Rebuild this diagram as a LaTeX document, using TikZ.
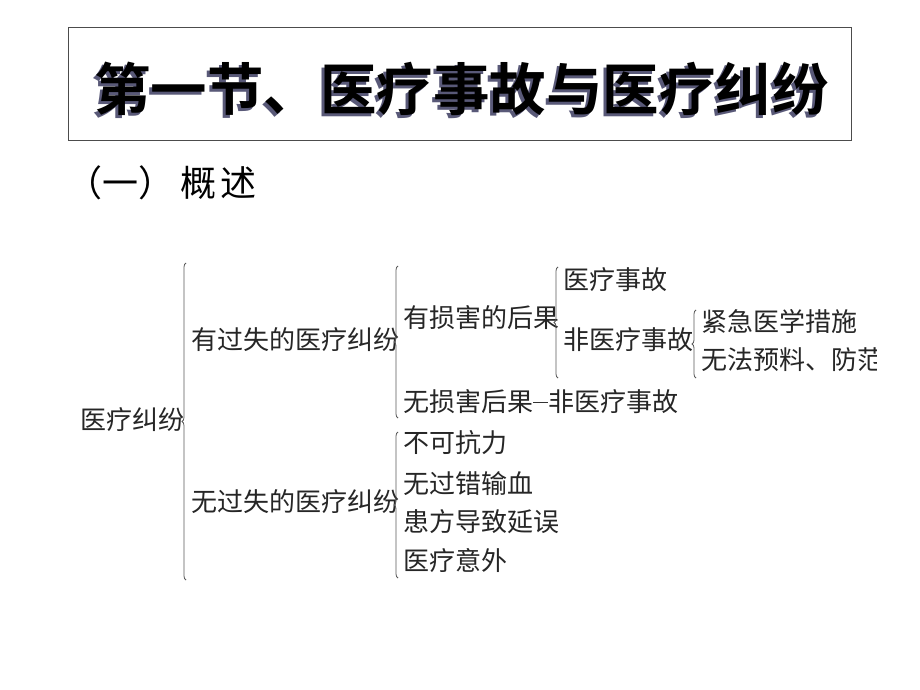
\documentclass[tikz,border=0pt]{standalone}
\usepackage{fontspec}
\newfontfamily\cjk[BoldFont={Noto Sans CJK SC Bold}]{Noto Sans CJK SC}
\usetikzlibrary{decorations.pathreplacing}
\colorlet{shadowc}{black!60!blue!30!gray}
\tikzset{
  leaf/.style={anchor=west, inner sep=0pt, font=\cjk\fontsize{26}{26}\selectfont, text=black!85},
  brc/.style={draw=black!65, line width=0.8pt, decorate, decoration={brace, amplitude=4pt, raise=0pt}},
  dashline/.style={draw=black!80, line width=0.8pt},
  titletext/.style={font=\cjk\bfseries\fontsize{56.5}{56.5}\selectfont, inner sep=0pt}
}
\newcommand\shadowed[1]{\rlap{\hspace{-3pt}\raisebox{-3pt}{\textcolor{shadowc}{#1}}}#1}
\begin{document}
\begin{tikzpicture}[x=1pt,y=-1pt]
\useasboundingbox (0,0) rectangle (920,690);
\fill[white] (0,0) rectangle (920,690);
% title
\node[draw=black!70, line width=0.8pt, minimum width=783pt, minimum height=113pt, inner sep=0pt] (titlebox) at (459.5,83.5) {};
\node[titletext, text=black] (title) at (461.5,90) {\shadowed{第一节、医疗事故与医疗纠纷}};
\node[anchor=west, inner sep=0pt, font=\cjk\fontsize{36}{36}\selectfont] (sub) at (66,183) {（一）\hspace{6pt}概\hspace{4pt}述};
% tree
\node[leaf] (root) at (80,420) {医疗纠纷};
\draw[brc] (186,580) -- (186,263);
\node[leaf] (a1) at (191,340) {有过失的医疗纠纷};
\node[leaf] (a2) at (191,502) {无过失的医疗纠纷};
\draw[brc] (398,418) -- (398,266);
\node[leaf] (b1) at (403,318) {有损害的后果};
\node[leaf] (b2) at (403,402) {无损害后果};
\node[leaf] (b3) at (548,402) {非医疗事故};
\draw[dashline] (b2.east) -- (b3.west);
\draw[brc] (558,378) -- (558,267);
\node[leaf] (c1) at (563,280) {医疗事故};
\node[leaf] (c2) at (563,340) {非医疗事故};
\draw[brc] (696,378) -- (696,310);
\node[leaf] (d1) at (701,321) {紧急医学措施};
\begin{scope}
\clip (0,0) rectangle (876,690);
\node[leaf] (d2) at (701,360) {无法预料、防范};
\end{scope}
\draw[brc] (398,578) -- (398,432);
\node[leaf] (e1) at (403,443) {不可抗力};
\node[leaf] (e2) at (403,484) {无过错输血};
\node[leaf] (e3) at (403,522) {患方导致延误};
\node[leaf] (e4) at (403,560) {医疗意外};
\end{tikzpicture}
\end{document}
